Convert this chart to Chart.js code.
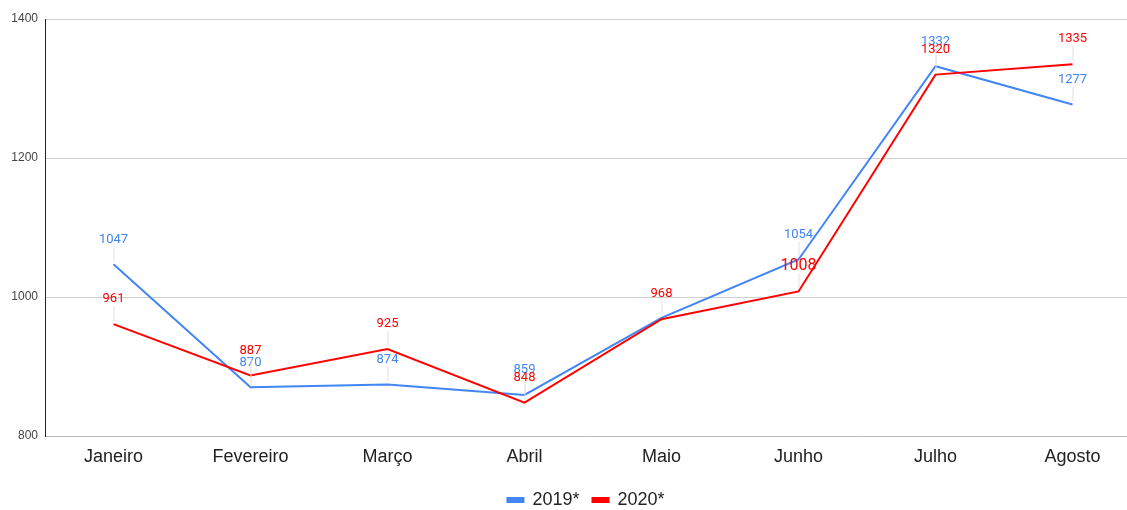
<!DOCTYPE html>
<html>
<head>
<meta charset="utf-8">
<script src="https://cdn.jsdelivr.net/npm/chart.js@4"></script>
<style>
  html, body { margin: 0; padding: 0; background: #fff; }
  #wrap { width: 1127px; height: 510px; }
</style>
</head>
<body>
<div id="wrap"><canvas id="chart"></canvas></div>
<script>
const meses = ['Janeiro', 'Fevereiro', 'Março', 'Abril', 'Maio', 'Junho', 'Julho', 'Agosto'];
const valores2019 = [1047, 870, 874, 859, 970, 1054, 1332, 1277];
const valores2020 = [961, 887, 925, 848, 968, 1008, 1320, 1335];
const yTicks = [800, 1000, 1200, 1400];

// labels above each point with a thin leader line
const pointLabels = {
  id: 'pointLabels',
  afterDatasetsDraw(chart, args, opts) {
    const ctx = chart.ctx;
    chart.data.datasets.forEach((ds, di) => {
      const meta = chart.getDatasetMeta(di);
      const skip = (opts.skip && opts.skip[di]) || [];
      meta.data.forEach((pt, i) => {
        if (skip.includes(i)) return;
        const big = opts.big && opts.big[di] && opts.big[di].includes(i);
        const size = big ? 16 : 13;
        ctx.save();
        ctx.strokeStyle = '#e0e0e0';
        ctx.lineWidth = 1;
        ctx.beginPath();
        ctx.moveTo(pt.x + 0.5, pt.y - 3);
        ctx.lineTo(pt.x + 0.5, pt.y - 18);
        ctx.stroke();
        ctx.font = size + 'px Roboto';
        ctx.fillStyle = ds.borderColor;
        ctx.textAlign = 'center';
        ctx.textBaseline = 'middle';
        ctx.fillText(ds.data[i], pt.x, pt.y - 25);
        ctx.restore();
      });
    });
  }
};

// stretch the category axis a little past the right edge, like the original
const stretchX = {
  id: 'stretchX',
  afterLayout(chart) {
    const x = chart.scales.x;
    x.right = x.right + 14;
    x.width = x.right - x.left;
    x.configure();
  }
};

new Chart(document.getElementById('chart'), {
  type: 'line',
  data: {
    labels: meses,
    datasets: [
      {
        label: '2019*',
        data: valores2019,
        borderColor: '#4285f4',
        backgroundColor: '#4285f4',
        borderWidth: 2,
        pointRadius: 0,
        tension: 0,
        order: 2
      },
      {
        label: '2020*',
        data: valores2020,
        borderColor: '#ff0000',
        backgroundColor: '#ff0000',
        borderWidth: 2,
        pointRadius: 0,
        tension: 0,
        order: 1
      }
    ]
  },
  options: {
    responsive: true,
    maintainAspectRatio: false,
    animation: false,
    layout: { padding: { top: 19, right: 0, bottom: -9, left: 0 } },
    plugins: {
      legend: {
        position: 'bottom',
        fullSize: false,
        labels: {
          boxWidth: 16,
          boxHeight: 4,
          color: '#222',
          font: { family: 'Liberation Sans, Arial', size: 18 },
          padding: 13,
          sort: (a, b) => a.datasetIndex - b.datasetIndex
        }
      },
      tooltip: { enabled: false },
      pointLabels: { skip: { 0: [4] }, big: { 1: [5] } }
    },
    scales: {
      x: {
        offset: true,
        grid: { display: false, drawTicks: false },
        border: { color: '#bbb' },
        ticks: {
          color: '#222',
          padding: 10,
          font: { family: 'Liberation Sans, Arial', size: 18 }
        },
        afterFit(s) { s.height = 42; }
      },
      y: {
        min: 800,
        max: 1400,
        afterBuildTicks(s) { s.ticks = yTicks.map(v => ({ value: v })); },
        grid: { color: '#d0d0d0', drawTicks: false },
        border: { color: '#222', width: 1 },
        ticks: {
          color: '#444',
          padding: 7,
          font: { family: 'Liberation Sans, Arial', size: 12 },
          callback: v => String(v)
        },
        afterFit(s) { s.width = 45; }
      }
    }
  },
  plugins: [pointLabels, stretchX]
});
</script>
</body>
</html>
